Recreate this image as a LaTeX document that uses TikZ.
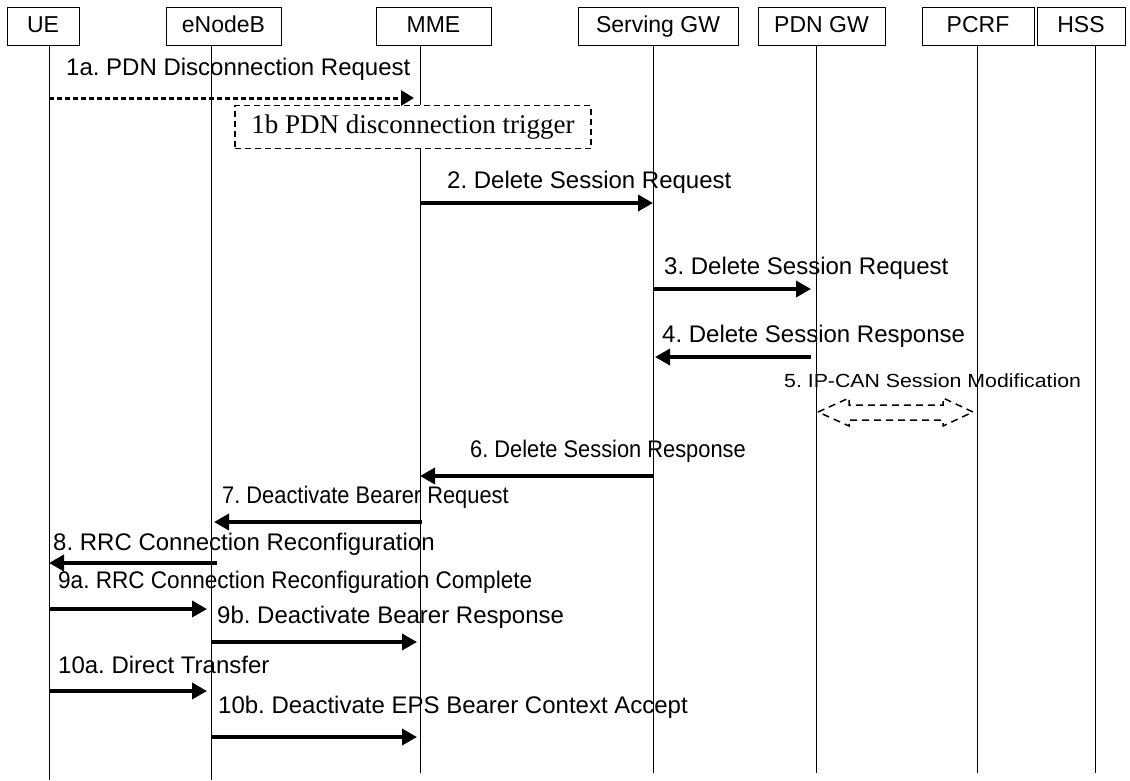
\documentclass[tikz,border=0pt]{standalone}
\usepackage{fontspec}
\usepackage{graphicx}
\setmainfont{Liberation Sans}
\newfontfamily\serifface{Liberation Serif}
\usetikzlibrary{arrows.meta}
\frenchspacing
\begin{document}
\begin{tikzpicture}[x=1pt,y=-1pt,
  hdr/.style={draw, line width=0.9pt, minimum height=38pt, inner sep=0pt, text height=16pt, text depth=4pt, font=\fontsize{23}{26}\selectfont},
  life/.style={line width=0.9pt},
  msg/.style={line width=3.5pt, -{Triangle[length=15pt,width=16pt]}},
  dmsg/.style={line width=3pt, dash pattern=on 5pt off 3pt, -{Triangle[length=13pt,width=15pt]}},
  lbl/.style={anchor=west, inner sep=0pt, font=\fontsize{24}{28}\selectfont},
  slbl/.style={anchor=west, inner sep=0pt, font=\fontsize{19}{22}\selectfont},
  trig/.style={draw, line width=1.2pt, dash pattern=on 6pt off 4pt, inner sep=0pt, font=\serifface\fontsize{27}{31}\selectfont},
  dbl/.style={line width=1.5pt, dash pattern=on 7pt off 5pt}]
\useasboundingbox (0,0) rectangle (1130,780);
% headers
\node[hdr, minimum width=72pt] (ue) at (43,26.5) {UE};
\node[hdr, minimum width=115pt] (enb) at (223.5,26.5) {eNodeB};
\node[hdr, minimum width=115pt] (mme) at (433.5,26.5) {MME};
\node[hdr, minimum width=160pt] (sgw) at (658,26.5) {Serving GW};
\node[hdr, minimum width=127pt] (pgw) at (821.5,26.5) {PDN GW};
\node[hdr, minimum width=112pt] (pcrf) at (978,26.5) {PCRF};
\node[hdr, minimum width=88pt] (hss) at (1081,26.5) {HSS};
% lifeline tops and bottoms
\coordinate (ueL) at (49,45.5);   \coordinate (ueB) at (49,780);
\coordinate (enbL) at (211,45.5); \coordinate (enbB) at (211,780);
\coordinate (mmeL) at (420,45.5); \coordinate (mmeB) at (420,773);
\coordinate (sgwL) at (653,45.5); \coordinate (sgwB) at (653,773);
\coordinate (pgwL) at (816,45.5); \coordinate (pgwB) at (816,773);
\coordinate (pcrfL) at (977,45.5); \coordinate (pcrfB) at (977,773);
\coordinate (hssL) at (1095,45.5); \coordinate (hssB) at (1095,773);
% 1b box
\node[trig, minimum width=356pt, minimum height=43pt] (t1b) at (413,127) {1b PDN disconnection trigger};
\draw[life] (ueL) -- (ueB);
\draw[life] (enbL) -- (enbB);
\draw[life] (mmeL) -- (mmeL |- t1b.north);
\draw[life] (mmeL |- t1b.south) -- (mmeB);
\draw[life] (sgwL) -- (sgwB);
\draw[life] (pgwL) -- (pgwB);
\draw[life] (pcrfL) -- (pcrfB);
\draw[life] (hssL) -- (hssB);
% messages
\node[lbl] (l1a) at (66,69) {1a. PDN Disconnection Request};
\draw[dmsg] (ueL |- 0,98) -- ([xshift=-6pt]mmeL |- 0,98);
\node[lbl] (l2) at (447,182) {2. Delete Session Request};
\draw[msg] (mmeL |- 0,203) -- (sgwL |- 0,203);
\node[lbl] (l3) at (664,268) {3. Delete Session Request};
\draw[msg] (sgwL |- 0,289) -- ([xshift=-5pt]pgwL |- 0,289);
\node[lbl] (l4) at (662,336) {4. Delete Session Response};
\draw[msg] ([xshift=-5pt]pgwL |- 0,357) -- ([xshift=2pt]sgwL |- 0,357);
\node[slbl] (l5) at (784,381) {\scalebox{1.12}[1]{5. IP-CAN Session Modification}};
\draw[dbl] (818,412) -- (849,398) -- (849,405) -- (943,405) -- (943,398) -- (973,412)
  -- (943,426) -- (943,420) -- (849,420) -- (849,426) -- cycle;
\node[lbl] (l6) at (470,451) {\scalebox{0.91}[1]{6. Delete Session Response}};
\draw[msg] (sgwL |- 0,476) -- (mmeL |- 0,476);
\node[lbl] (l7) at (222,497) {\scalebox{0.91}[1]{7. Deactivate Bearer Request}};
\draw[msg] ([xshift=2pt]mmeL |- 0,522) -- ([xshift=3pt]enbL |- 0,522);
\node[lbl] (l8) at (53,544) {8. RRC Connection Reconfiguration};
\draw[msg] ([xshift=6pt]enbL |- 0,563) -- (ueL |- 0,563);
\node[lbl] (l9a) at (58,582) {\scalebox{0.94}[1]{9a. RRC Connection Reconfiguration Complete}};
\draw[msg] (ueL |- 0,609) -- ([xshift=-4pt]enbL |- 0,609);
\node[lbl] (l9b) at (217,617) {9b. Deactivate Bearer Response};
\draw[msg] (enbL |- 0,642) -- ([xshift=-3pt]mmeL |- 0,642);
\node[lbl] (l10a) at (58,665) {10a. Direct Transfer};
\draw[msg] (ueL |- 0,691) -- ([xshift=-4pt]enbL |- 0,691);
\node[lbl] (l10b) at (218,707) {10b. Deactivate EPS Bearer Context Accept};
\draw[msg] (enbL |- 0,737) -- ([xshift=-3pt]mmeL |- 0,737);
\end{tikzpicture}
\end{document}
